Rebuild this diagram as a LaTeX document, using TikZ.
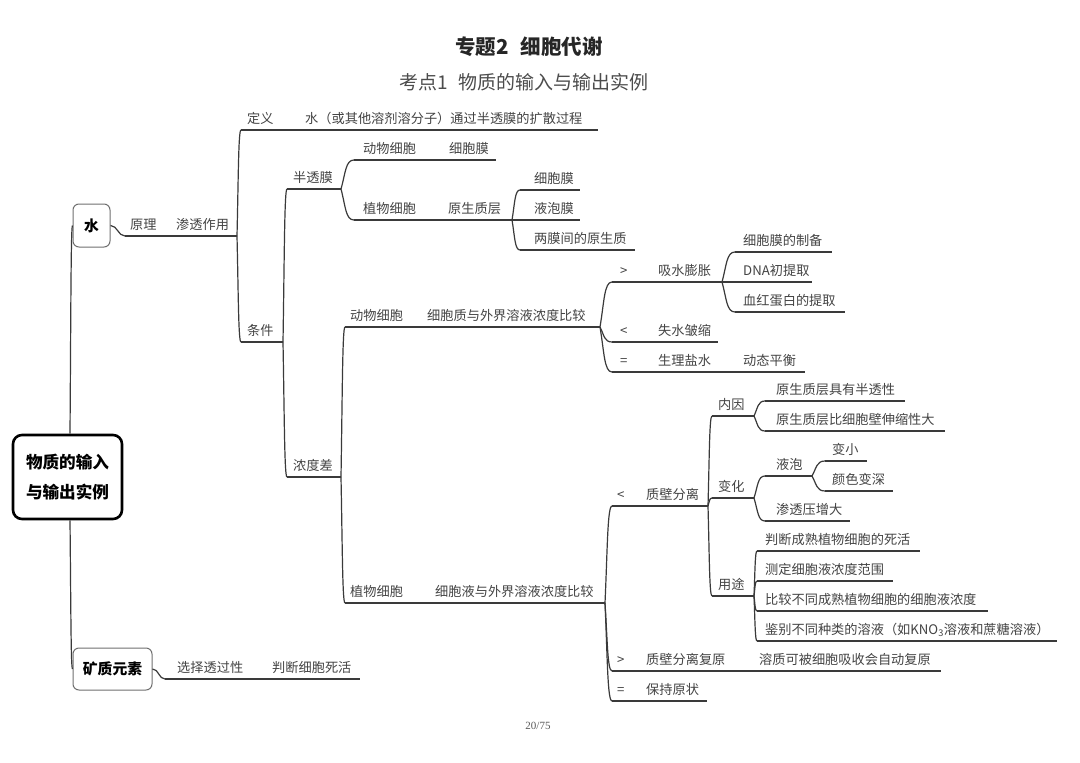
\documentclass[tikz,border=0pt]{standalone}
\usepackage{fontspec}
\setmainfont{Noto Sans CJK SC}
\newfontfamily\numfont{Liberation Serif}
\usetikzlibrary{calc}
\definecolor{linec}{HTML}{3A3A3A}
\definecolor{txtc}{HTML}{444444}
\definecolor{boxc}{HTML}{707070}
\newcommand\MBr[4]{\coordinate (#1-s) at (#2,#4);\coordinate (#1-e) at (#3,#4);\draw[ln] (#1-s) -- (#1-e);}
\newcommand\MLb[4]{\node[lb] (#1) at (#2,#3-7) {#4};}
\newcommand\MCn[2]{\draw[ln] let \p1=(#1), \p2=(#2) in (\p1) .. controls ({\x1+0.35*(\x2-\x1)},{\y1+0.55*(\y2-\y1)}) and ({\x1+0.35*(\x2-\x1)},\y2) .. (\p2);}
\tikzset{
  ln/.style={draw=linec, line width=1.2pt},
  lb/.style={anchor=base west, inner sep=0pt, text=txtc, font=\fontsize{13.2}{14}\selectfont},
  topicbox/.style={draw=boxc, line width=1pt, rounded corners=6pt, fill=white, font=\bfseries\fontsize{14.8}{16}\selectfont, inner sep=0pt, text=black},
  rootbox/.style={draw=black, line width=2.6pt, rounded corners=9pt, fill=white, align=center, font=\bfseries\fontsize{16.6}{30}\selectfont, inner sep=0pt, minimum width=109pt, minimum height=84pt, text=black},
}
\begin{document}
\begin{tikzpicture}[x=1pt,y=-1pt]
\useasboundingbox (0,0) rectangle (1080,763);
\fill[white] (0,0) rectangle (1080,763);

% titles
\node[font=\bfseries\fontsize{20.5}{22}\selectfont, text=black!85] (title) at (529,47) {专题2\hspace{0.6em}细胞代谢};
\node[font=\fontsize{19}{21}\selectfont, text=black!70] (subtitle) at (524,82) {考点1\hspace{0.5em}物质的输入与输出实例};
\node[font=\numfont\fontsize{11}{12}\selectfont, text=black!65] (page) at (538,726) {20/75};

% main boxes
\node[rootbox] (root) at (67.5,477) {物质的输入\\与输出实例};
\node[topicbox, minimum width=37pt, minimum height=43pt] (shui) at (91.5,225.5) {水};
\node[topicbox, minimum width=79pt, minimum height=42pt] (kz) at (112.5,669) {矿质元素};

\coordinate (rootT) at ($(root.north)+(2.5,0)$);
\coordinate (rootB) at ($(root.south)+(2.5,0)$);
\MCn{rootT}{shui.west}
\MCn{rootB}{kz.west}

% branch lines
\MBr{yl}{125}{237}{236}
\MBr{dy}{241}{598}{130}
\MBr{tj}{241}{283}{342}
\MBr{btm}{287}{341}{189}
\MBr{ndc}{287}{341}{477}
\MBr{dwa}{354}{496}{160}
\MBr{zwa}{354}{512}{220}
\MBr{xbm}{520}{580}{190}
\MBr{ypm}{520}{580}{220}
\MBr{lmj}{520}{635}{250}
\MBr{dwb}{345}{600}{327}
\MBr{zwb}{345}{605}{603}
\MBr{xspz}{612}{722}{282}
\MBr{sszs}{612}{718}{342}
\MBr{slys}{612}{805}{372}
\MBr{zb}{735}{832}{252}
\MBr{dna}{735}{812}{282}
\MBr{xh}{735}{845}{312}
\MBr{zbfl}{612}{708}{506}
\MBr{fy}{612}{941}{671}
\MBr{bc}{612}{707}{701}
\MBr{ny}{712}{754}{416}
\MBr{bh}{712}{754}{498}
\MBr{yt}{712}{754}{596}
\MBr{bts}{765}{905}{401}
\MBr{ssx}{765}{945}{431}
\MBr{yp}{765}{812}{476}
\MBr{stj}{765}{850}{521}
\MBr{bx}{825}{867}{461}
\MBr{ys}{825}{893}{491}
\MBr{pd}{757}{920}{551}
\MBr{cd}{757}{893}{581}
\MBr{bj}{757}{988}{611}
\MBr{jb}{757}{1057}{641}
\MBr{kx}{165}{360}{679}

% connectors
\draw[ln] (shui.east) to[out=0,in=180] (yl-s);
\draw[ln] (kz.east) to[out=0,in=180] (kx-s);
\MCn{yl-e}{dy-s}
\MCn{yl-e}{tj-s}
\MCn{tj-e}{btm-s}
\MCn{tj-e}{ndc-s}
\MCn{btm-e}{dwa-s}
\MCn{btm-e}{zwa-s}
\MCn{zwa-e}{xbm-s}
\MCn{zwa-e}{ypm-s}
\MCn{zwa-e}{lmj-s}
\MCn{ndc-e}{dwb-s}
\MCn{ndc-e}{zwb-s}
\MCn{dwb-e}{xspz-s}
\MCn{dwb-e}{sszs-s}
\MCn{dwb-e}{slys-s}
\MCn{xspz-e}{zb-s}
\MCn{xspz-e}{dna-s}
\MCn{xspz-e}{xh-s}
\MCn{zwb-e}{zbfl-s}
\MCn{zwb-e}{fy-s}
\MCn{zwb-e}{bc-s}
\MCn{zbfl-e}{ny-s}
\MCn{zbfl-e}{bh-s}
\MCn{zbfl-e}{yt-s}
\MCn{ny-e}{bts-s}
\MCn{ny-e}{ssx-s}
\MCn{bh-e}{yp-s}
\MCn{bh-e}{stj-s}
\MCn{yp-e}{bx-s}
\MCn{yp-e}{ys-s}
\MCn{yt-e}{pd-s}
\MCn{yt-e}{cd-s}
\MCn{yt-e}{bj-s}
\MCn{yt-e}{jb-s}

% labels
\MLb{l-yl}{130}{236}{原理}
\MLb{l-stzy}{176}{236}{渗透作用}
\MLb{l-dy}{247}{130}{定义}
\MLb{l-dyt}{305}{130}{水（或其他溶剂溶分子）通过半透膜的扩散过程}
\MLb{l-tj}{247}{342}{条件}
\MLb{l-btm}{293}{189}{半透膜}
\MLb{l-ndc}{293}{477}{浓度差}
\MLb{l-dwa}{363}{160}{动物细胞}
\MLb{l-xbma}{449}{160}{细胞膜}
\MLb{l-zwa}{363}{220}{植物细胞}
\MLb{l-ysz}{448}{220}{原生质层}
\MLb{l-xbm}{534}{190}{细胞膜}
\MLb{l-ypm}{534}{220}{液泡膜}
\MLb{l-lmj}{534}{250}{两膜间的原生质}
\MLb{l-dwb}{350}{327}{动物细胞}
\MLb{l-dwbt}{427}{327}{细胞质与外界溶液浓度比较}
\MLb{l-zwb}{350}{603}{植物细胞}
\MLb{l-zwbt}{435}{603}{细胞液与外界溶液浓度比较}
\MLb{l-gt}{620}{282}{>}
\MLb{l-xspz}{658}{282}{吸水膨胀}
\MLb{l-lt}{620}{342}{<}
\MLb{l-sszs}{658}{342}{失水皱缩}
\MLb{l-eq}{620}{372}{=}
\MLb{l-slys}{658}{372}{生理盐水}
\MLb{l-dtph}{743}{372}{动态平衡}
\MLb{l-zb}{743}{252}{细胞膜的制备}
\MLb{l-dna}{743}{282}{DNA初提取}
\MLb{l-xh}{743}{312}{血红蛋白的提取}
\MLb{l-lt2}{617}{506}{<}
\MLb{l-zbfl}{646}{506}{质壁分离}
\MLb{l-gt2}{617}{671}{>}
\MLb{l-fy}{646}{671}{质壁分离复原}
\MLb{l-fyt}{759}{671}{溶质可被细胞吸收会自动复原}
\MLb{l-eq2}{617}{701}{=}
\MLb{l-bc}{646}{701}{保持原状}
\MLb{l-ny}{718}{416}{内因}
\MLb{l-bh}{718}{498}{变化}
\MLb{l-yt}{718}{596}{用途}
\MLb{l-bts}{776}{401}{原生质层具有半透性}
\MLb{l-ssx}{776}{431}{原生质层比细胞壁伸缩性大}
\MLb{l-yp}{776}{476}{液泡}
\MLb{l-stj}{776}{521}{渗透压增大}
\MLb{l-bx}{832}{461}{变小}
\MLb{l-ys}{832}{491}{颜色变深}
\MLb{l-pd}{765}{551}{判断成熟植物细胞的死活}
\MLb{l-cd}{765}{581}{测定细胞液浓度范围}
\MLb{l-bj}{765}{611}{比较不同成熟植物细胞的细胞液浓度}
\MLb{l-jb}{765}{641}{鉴别不同种类的溶液（如KNO\textsubscript{3}溶液和蔗糖溶液）}
\MLb{l-kx}{177}{679}{选择透过性}
\MLb{l-kxt}{272}{679}{判断细胞死活}
\end{tikzpicture}
\end{document}
